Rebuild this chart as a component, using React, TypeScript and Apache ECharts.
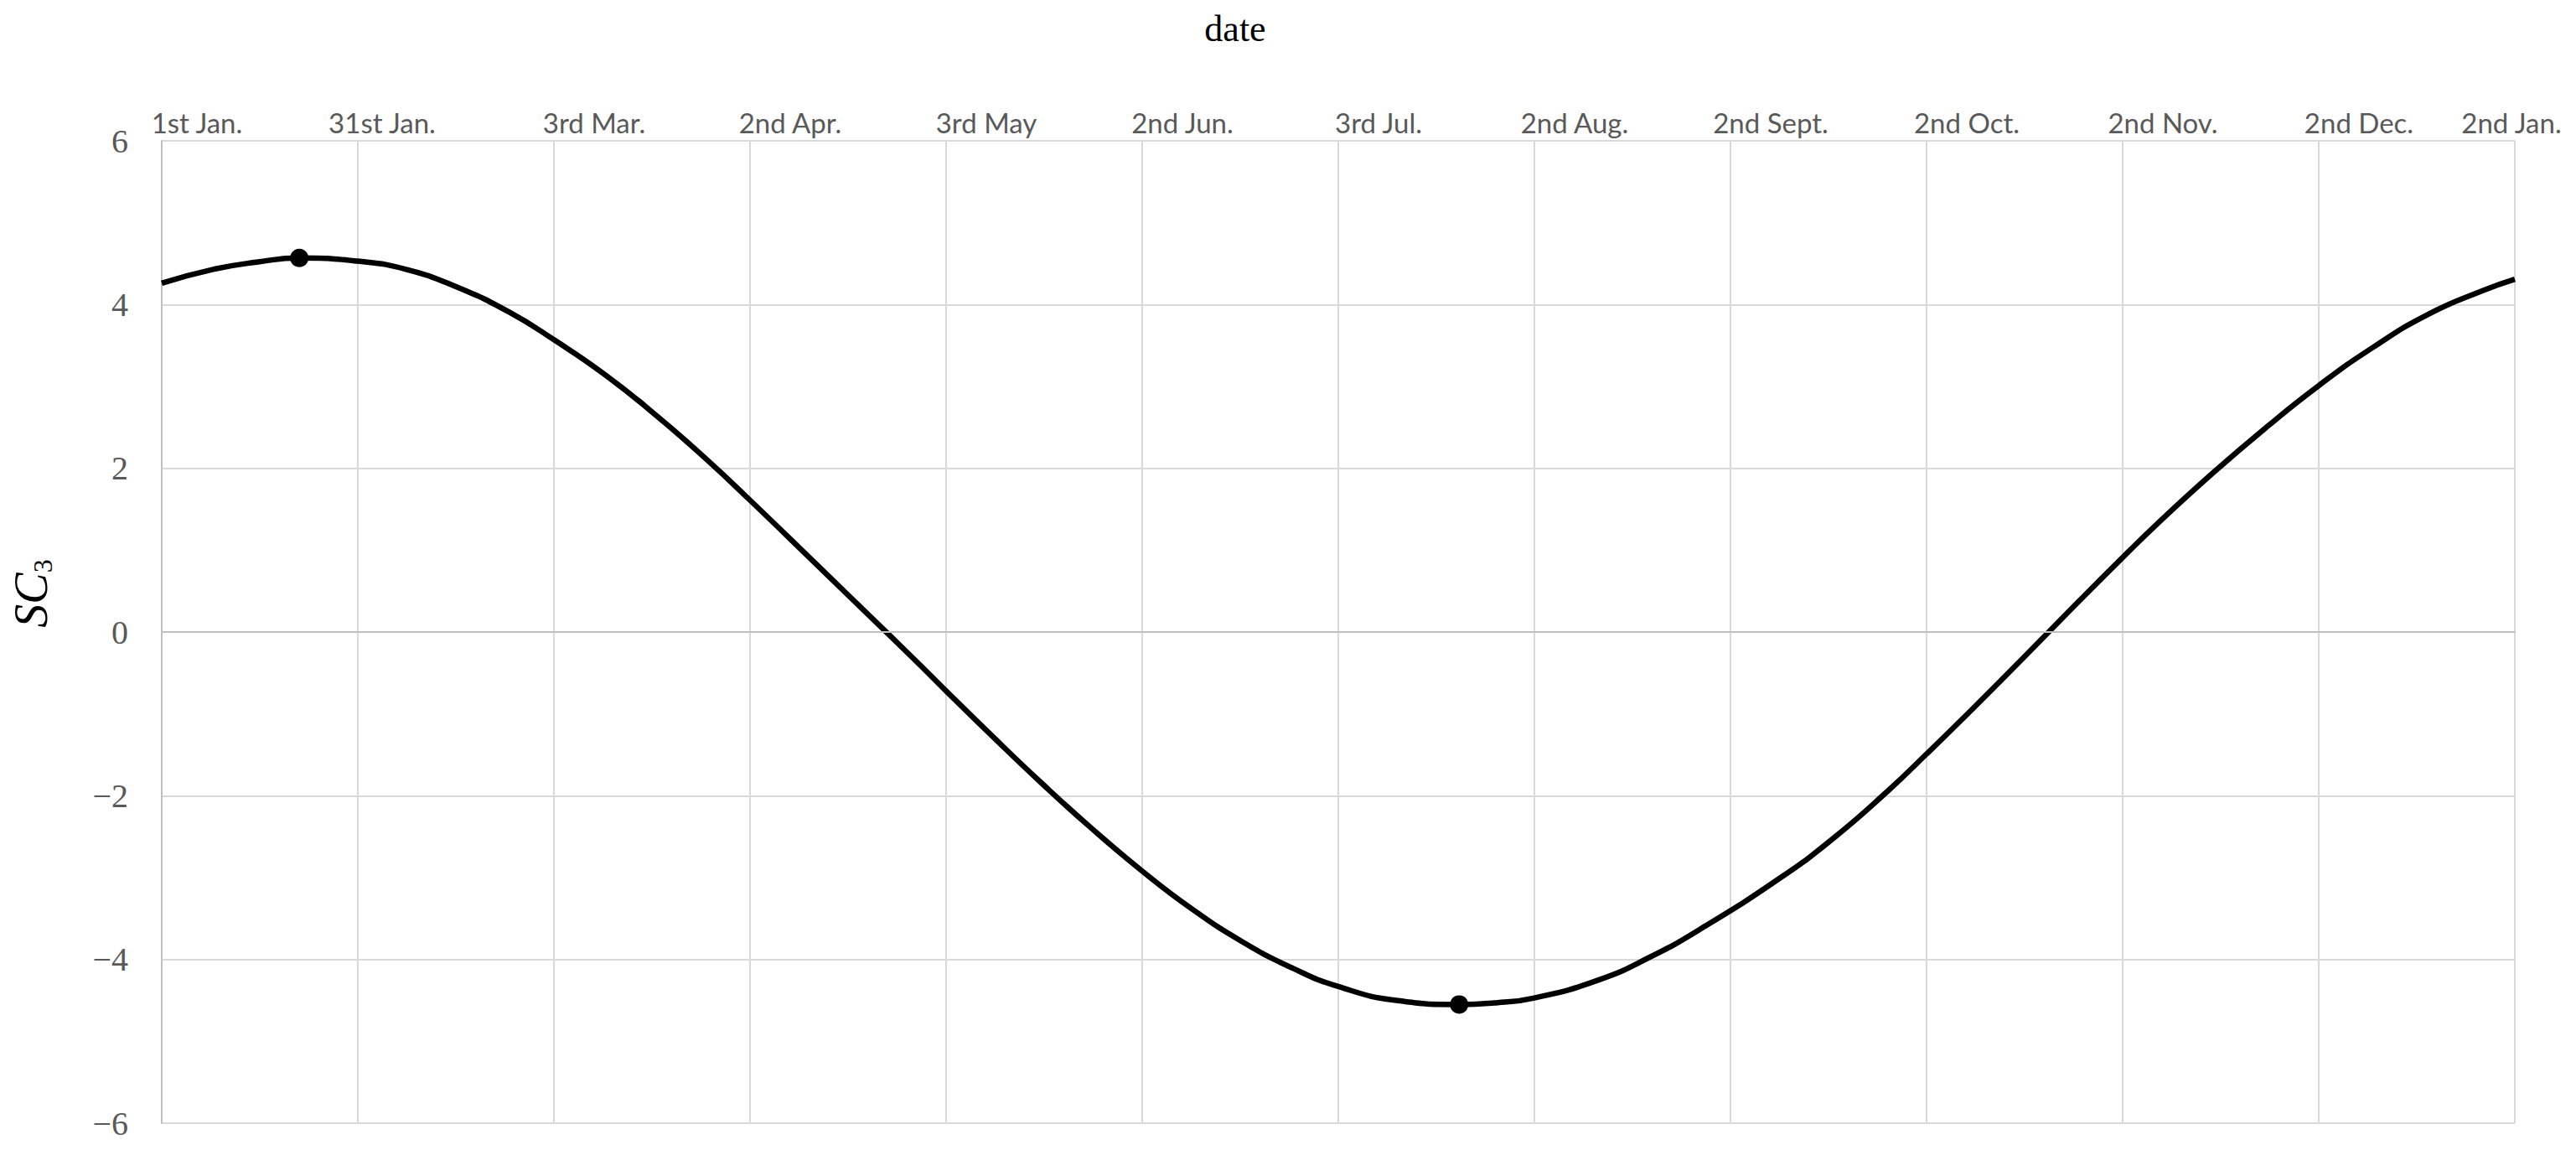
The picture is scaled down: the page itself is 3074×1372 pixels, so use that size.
import React, { useEffect, useRef } from "react";
import * as echarts from "echarts";

// Days since 1st Jan and SC3 values
const dayOffsets = [
  0, 8, 15, 21.4, 30.5, 38, 46, 54, 61, 69, 77, 85, 91.5, 101, 109, 117, 122,
  128.5, 136.5, 144.5, 152.5, 160, 168, 176, 183, 192, 201.8, 207.5, 213.5,
  223.5, 231.5, 239.5, 252, 260, 268.5, 274.5, 281, 289.5, 298, 305, 310.5,
  319, 327.5, 335.5, 344, 352.5, 361, 366,
];
const sc3Values = [
  4.26, 4.43, 4.52, 4.57, 4.53, 4.43, 4.21, 3.91, 3.57, 3.14, 2.64, 2.09, 1.61,
  0.89, 0.28, -0.33, -0.72, -1.22, -1.82, -2.39, -2.92, -3.37, -3.78, -4.11,
  -4.33, -4.5, -4.55, -4.53, -4.47, -4.25, -3.97, -3.62, -2.99, -2.52, -1.94,
  -1.49, -0.99, -0.32, 0.36, 0.91, 1.33, 1.94, 2.51, 3.01, 3.48, 3.88, 4.17,
  4.31,
];
// Marked extremes
const extremeDays = [21.4, 201.8];
const extremeValues = [4.57, -4.55];

// Date tick labels (every 30.5 days)
const tickLabels = [
  "1st Jan.", "31st Jan.", "3rd Mar.", "2nd Apr.", "3rd May", "2nd Jun.",
  "3rd Jul.", "2nd Aug.", "2nd Sept.", "2nd Oct.", "2nd Nov.", "2nd Dec.",
  "2nd Jan.",
];
const tickStep = 30.5;
const yMin = -6;
const yMax = 6;
const yStep = 2;

export default function App() {
  const ref = useRef<HTMLDivElement>(null);

  useEffect(() => {
    if (!ref.current) return;
    const chart = echarts.init(ref.current, null, { renderer: "svg" });
    const lineData = dayOffsets.map((d, i) => [d, sc3Values[i]]);
    const extremeData = extremeDays.map((d, i) => [d, extremeValues[i]]);
    const gridColor = "#d9d9d9";
    const axisColor = "#bfbfbf";
    const labelFont = "Lato, 'Open Sans', sans-serif";
    const labelBase = { fontFamily: labelFont, fontSize: 33, color: "#595959" };

    chart.setOption({
      animation: false,
      backgroundColor: "#ffffff",
      grid: { left: 193, right: 73, top: 168, bottom: 32, containLabel: false },
      graphic: [
        {
          type: "text",
          x: 1474,
          y: 34,
          style: {
            text: "date",
            font: '44px "Liberation Serif", "DejaVu Serif", serif',
            fill: "#000000",
            align: "center",
            verticalAlign: "middle",
          },
        },
        {
          type: "text",
          x: 37,
          y: 708,
          rotation: Math.PI / 2,
          style: {
            text: "{a|SC}{b|3}",
            align: "center",
            verticalAlign: "middle",
            rich: {
              a: {
                fontFamily: '"Liberation Serif", "DejaVu Serif", serif',
                fontStyle: "italic",
                fontSize: 56,
                lineHeight: 60,
                fill: "#000000",
                color: "#000000",
              },
              b: {
                fontFamily: '"Liberation Serif", "DejaVu Serif", serif',
                fontSize: 32,
                lineHeight: 60,
                verticalAlign: "bottom",
                fill: "#000000",
                color: "#000000",
              },
            },
          },
        },
      ],
      xAxis: {
        type: "value",
        position: "top",
        min: 0,
        max: tickStep * (tickLabels.length - 1),
        interval: tickStep,
        axisLine: { show: true, lineStyle: { color: axisColor, width: 2 } },
        axisTick: { show: false },
        splitLine: { show: true, lineStyle: { color: gridColor, width: 2 } },
        axisLabel: {
          margin: 6,
          formatter: (v: number) => {
            const i = Math.round(v / tickStep);
            const t = tickLabels[i] ?? "";
            if (i === 0) return `{f|${t}}`;
            if (i === 1) return `{s|${t}}`;
            if (i === tickLabels.length - 1) return `{e|${t}}`;
            return `{n|${t}}`;
          },
          rich: {
            f: { ...labelBase, padding: [0, 0, 0, 84] },
            s: { ...labelBase, padding: [0, 0, 0, 58] },
            n: { ...labelBase, padding: [0, 0, 0, 96] },
            e: { ...labelBase, padding: [0, 8, 0, 0] },
          },
        },
      },
      yAxis: {
        type: "value",
        min: yMin,
        max: yMax,
        interval: yStep,
        axisLine: { show: true, lineStyle: { color: axisColor, width: 2 } },
        axisTick: { show: false },
        splitLine: { show: true, lineStyle: { color: gridColor, width: 2 } },
        axisLabel: {
          margin: 40,
          fontFamily: '"Liberation Serif", "DejaVu Serif", serif',
          fontSize: 40,
          color: "#595959",
          formatter: (v: number) => (v < 0 ? "\u2212" + Math.abs(v) : String(v)),
        },
      },
      series: [
        {
          type: "line",
          data: lineData,
          smooth: 0.5,
          showSymbol: false,
          lineStyle: { color: "#000000", width: 6.5 },
          itemStyle: { color: "#000000" },
          markLine: {
            silent: true,
            symbol: "none",
            label: { show: false },
            lineStyle: { color: axisColor, width: 2, type: "solid" },
            data: [{ yAxis: 0 }],
          },
          z: 3,
        },
        {
          type: "scatter",
          data: extremeData,
          symbol: "circle",
          symbolSize: 22,
          itemStyle: { color: "#000000", opacity: 1 },
          z: 4,
        },
      ],
    });

    return () => chart.dispose();
  }, []);

  return (
    <div
      ref={ref}
      style={{ position: "fixed", left: 0, top: 0, width: 3074, height: 1372 }}
    />
  );
}
